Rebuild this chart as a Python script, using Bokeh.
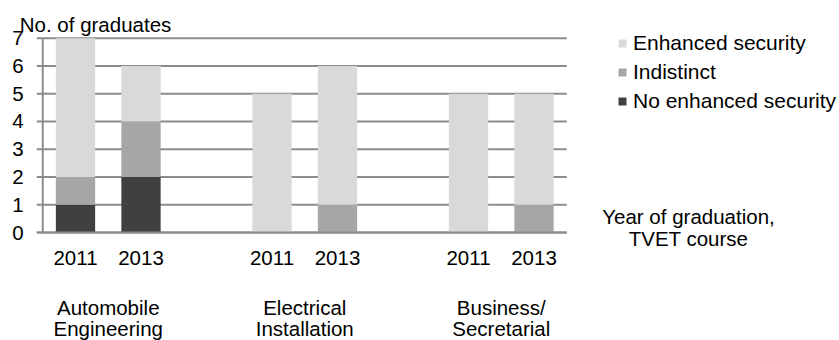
from bokeh.plotting import figure
from bokeh.models import ColumnDataSource, Legend, LegendItem, Range1d
from bokeh.core.properties import value
from bokeh.embed import file_html
from bokeh.resources import INLINE

# ---- data ----
courses = ["Automobile\nEngineering", "Electrical\nInstallation", "Business/\nSecretarial"]
years = ["2011", "2013"]
no_enhanced = [1, 2, 0, 0, 0, 0]
indistinct = [1, 2, 0, 1, 0, 1]
enhanced = [5, 2, 5, 5, 5, 4]
series = ["no_enhanced", "indistinct", "enhanced"]
series_labels = ["No enhanced security", "Indistinct", "Enhanced security"]
colors = ["#404040", "#a6a6a6", "#d9d9d9"]
y_ticks = [0, 1, 2, 3, 4, 5, 6, 7]
y_title = "No. of graduates"
x_title = "Year of graduation,\nTVET course"

# ---- layout (pixels) ----
W, H = 839, 340
FRAME_L, FRAME_R = 42.25, 566.25
FRAME_B, FRAME_T = 232.0, 37.7
FONT = "Liberation Sans"
FS = "20.5px"
GRID = "#8c8c8c"

slots_per_group = len(years) + 1
n_slots = len(courses) * slots_per_group - 1
y_max = max(y_ticks)
px_x = (FRAME_R - FRAME_L) / n_slots
px_y = (FRAME_B - FRAME_T) / y_max

xs, xlabels = [], []
for gi in range(len(courses)):
    for yi, yr in enumerate(years):
        xs.append(gi * slots_per_group + yi + 0.5)
        xlabels.append(yr)

src = ColumnDataSource(dict(x=xs, no_enhanced=no_enhanced, indistinct=indistinct, enhanced=enhanced))

x_range = Range1d(-FRAME_L / px_x, (W - FRAME_L) / px_x)
y_range = Range1d(-(H - FRAME_B) / px_y, FRAME_B / px_y)

p = figure(width=W, height=H, output_backend="svg", toolbar_location=None,
           x_range=x_range, y_range=y_range, x_axis_type=None, y_axis_type=None,
           min_border=0, min_border_left=0, min_border_right=0, min_border_top=0, min_border_bottom=0)
p.outline_line_color = None
p.grid.visible = False
p.background_fill_color = "white"
p.border_fill_color = "white"

tick_out = 6 / px_x

# horizontal grid lines (with outer tick marks)
p.segment(x0=[-tick_out] * len(y_ticks), x1=[n_slots] * len(y_ticks), y0=y_ticks, y1=y_ticks,
          line_color=GRID, line_width=2)

renderers = p.vbar_stack(series, x="x", width=0.6, source=src, color=colors, line_color=None)

# axes lines
p.segment(x0=[-tick_out], x1=[n_slots], y0=[0], y1=[0], line_color=GRID, line_width=2)
p.segment(x0=[0], x1=[0], y0=[0], y1=[y_max], line_color=GRID, line_width=2)

text_kw = dict(text_font=value(FONT), text_font_size=value(FS), text_color="black")

# y tick labels
p.text(x=[0] * len(y_ticks), y=y_ticks, text=[str(t) for t in y_ticks], x_offset=-19,
       text_align="right", text_baseline="middle", **text_kw)

# year tick labels
p.text(x=xs, y=[0] * len(xs), text=xlabels, y_offset=25.5,
       text_align="center", text_baseline="middle", **text_kw)

# course group labels (two lines each)
gx, gy, gt, goff = [], [], [], []
for gi, c in enumerate(courses):
    for li, line in enumerate(c.split("\n")):
        gx.append(gi * slots_per_group + len(years) / 2)
        gy.append(0)
        gt.append(line)
        goff.append(74.7 + li * 21.6)
p.text(x=gx, y=gy, text=gt, y_offset=goff, text_align="center", text_baseline="middle", **text_kw)

# axis titles
p.text(x=[0], y=[y_max], text=[y_title], x_offset=-23, y_offset=-13.7,
       text_align="left", text_baseline="middle", **text_kw)
xt_lines = x_title.split("\n")
p.text(x=[n_slots] * len(xt_lines), y=[0] * len(xt_lines), text=xt_lines, x_offset=121.75,
       y_offset=[-16.5 + i * 22 for i in range(len(xt_lines))],
       text_align="center", text_baseline="middle", **text_kw)

items = [LegendItem(label=lab, renderers=[r]) for lab, r in zip(series_labels, renderers)][::-1]
legend = Legend(items=items, location=(617, 227.5), padding=0, margin=0,
                border_line_color=None, background_fill_alpha=0,
                glyph_width=10, glyph_height=10, label_height=23, spacing=5,
                label_standoff=6, label_text_font=FONT, label_text_font_size="21px",
                label_text_color="black")
p.add_layout(legend, "center")

open("out.html", "w").write(file_html(p, INLINE))
